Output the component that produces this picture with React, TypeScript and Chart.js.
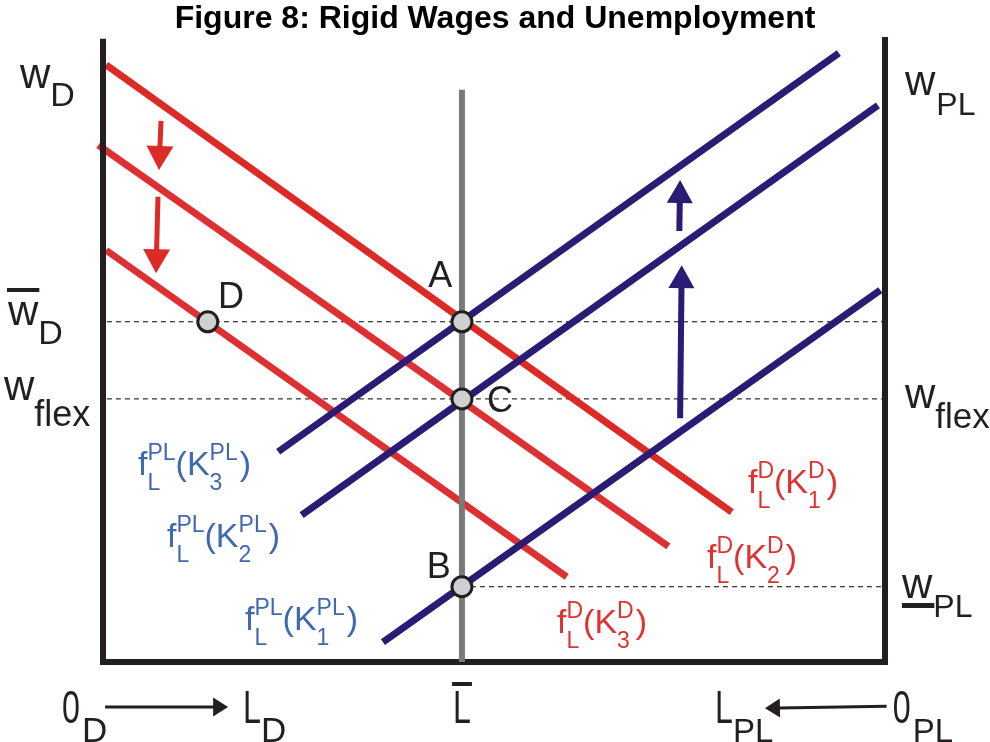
import { useEffect, useRef } from "react";
import { Chart, registerables } from "chart.js";

Chart.register(...registerables);

const TITLE = "Figure 8: Rigid Wages and Unemployment";
const FONT = '"Liberation Sans", Arial, sans-serif';

// x = labour (from O_D, 0..100), y = wage (0..100)
const demandK1 = [{ x: 0.4, y: 96.0 }, { x: 80.4, y: 24.1 }];
const demandK2 = [{ x: -0.6, y: 83.1 }, { x: 72.3, y: 18.6 }];
const demandK3 = [{ x: 0.4, y: 66.2 }, { x: 59.3, y: 13.7 }];
const supplyK1 = [{ x: 35.8, y: 3.2 }, { x: 99.4, y: 59.8 }];
const supplyK2 = [{ x: 25.4, y: 23.6 }, { x: 99.1, y: 89.5 }];
const supplyK3 = [{ x: 22.4, y: 33.8 }, { x: 94.1, y: 97.9 }];

const laborEndowment = 45.9;
const laborLineTop = 92.0;
const wageRigid = 54.7;
const wageFlex = 42.3;
const wagePLMin = 12.1;

const pointNames = ["A", "C", "B", "D"];
const pointX = [45.9, 45.9, 45.9, 13.4];
const pointY = [54.7, 42.3, 12.1, 54.7];

const redArrows = [
  { from: [7.42, 87.0], to: [7.16, 79.1] },
  { from: [7.03, 74.8], to: [6.78, 62.5] },
];
const blueArrows = [
  { from: [73.7, 69.3], to: [73.8, 77.5] },
  { from: [73.8, 39.2], to: [74.0, 63.8] },
];
const originArrows = [
  { from: [0.26, -7.23], to: [16.0, -7.23] },
  { from: [100.2, -7.1], to: [84.65, -7.45] },
];

const RED = "#dc2a26";
const BLUE = "#2c1b74";
const BLACK = "#231f20";
const RED_TXT = "#e03232";
const BLUE_TXT = "#4169b0";

type Tok = { t?: string; sup?: string; sub?: string; sx?: number; gap?: number; over?: number; under?: number };
type Rich = { x: number; y: number; color: string; size: number; ssize: number; supDy: number; subDy: number; toks: Tok[] };

const axisLabels: Rich[] = [
  { x: -10.61, y: 92.28, color: BLACK, size: 42, ssize: 34, supDy: 0, subDy: 18, toks: [{ t: "w" }, { sub: "D" }] },
  { x: -12.15, y: 54.18, color: BLACK, size: 42, ssize: 34, supDy: 0, subDy: 19, toks: [{ t: "w", over: 35 }, { sub: "D" }] },
  { x: -12.66, y: 42.12, color: BLACK, size: 42, ssize: 36, supDy: 0, subDy: 26, toks: [{ t: "w" }, { sub: "flex" }] },
  { x: 102.56, y: 91.16, color: BLACK, size: 42, ssize: 32, supDy: 0, subDy: 20, toks: [{ t: "w" }, { sub: "PL", gap: 1 }] },
  { x: 102.56, y: 40.84, color: BLACK, size: 42, ssize: 35, supDy: 0, subDy: 20, toks: [{ t: "w" }, { sub: "flex" }] },
  { x: 102.17, y: 10.29, color: BLACK, size: 42, ssize: 32, supDy: 0, subDy: 19, toks: [{ t: "w", under: 7 }, { sub: "PL", gap: 1 }] },
  { x: -5.24, y: -9.81, color: BLACK, size: 46, ssize: 35, supDy: 0, subDy: 19, toks: [{ t: "0", sx: 0.7 }, { sub: "D", gap: 2 }] },
  { x: 17.9, y: -9.81, color: BLACK, size: 46, ssize: 35, supDy: 0, subDy: 19, toks: [{ t: "L", sx: 0.7 }, { sub: "D" }] },
  { x: 44.76, y: -9.81, color: BLACK, size: 46, ssize: 35, supDy: 0, subDy: 19, toks: [{ t: "L", sx: 0.7, over: 39 }] },
  { x: 78.26, y: -9.81, color: BLACK, size: 46, ssize: 33, supDy: 0, subDy: 19, toks: [{ t: "L", sx: 0.7 }, { sub: "PL" }] },
  { x: 101.0, y: -9.81, color: BLACK, size: 46, ssize: 33, supDy: 0, subDy: 19, toks: [{ t: "0", sx: 0.7 }, { sub: "PL", gap: 2 }] },
];

const curveLabelX = [4.48, 8.18, 18.16, 82.48, 77.24, 58.06];
const curveLabelY = [30.06, 18.49, 5.14, 27.17, 15.11, 4.66];
const curveLabelSup = ["PL", "PL", "PL", "D", "D", "D"];
const curveLabelIdx = ["3", "2", "1", "1", "2", "3"];

const pointLabelX = [41.6, 49.1, 41.4, 14.71];
const pointLabelY = [60.29, 40.19, 13.5, 56.91];

function drawRich(ctx: CanvasRenderingContext2D, px: number, py: number, lab: Rich) {
  let cx = px;
  ctx.fillStyle = lab.color;
  ctx.textBaseline = "alphabetic";
  ctx.textAlign = "left";
  for (const tk of lab.toks) {
    cx += tk.gap ?? 0;
    if (tk.t) {
      ctx.font = `${lab.size}px ${FONT}`;
      const sx = tk.sx ?? 1;
      const w = ctx.measureText(tk.t).width * sx;
      ctx.save();
      ctx.translate(cx, py);
      ctx.scale(sx, 1);
      ctx.fillText(tk.t, 0, 0);
      ctx.restore();
      if (tk.over != null) ctx.fillRect(cx - 1, py - tk.over - 2, w + 2, 4);
      if (tk.under != null) ctx.fillRect(cx, py + tk.under - 2, w + 2, 5);
      cx += w;
    } else {
      ctx.font = `${lab.ssize}px ${FONT}`;
      let w = 0;
      if (tk.sup) {
        ctx.fillText(tk.sup, cx, py + lab.supDy);
        w = Math.max(w, ctx.measureText(tk.sup).width);
      }
      if (tk.sub) {
        ctx.fillText(tk.sub, cx, py + lab.subDy);
        w = Math.max(w, ctx.measureText(tk.sub).width);
      }
      cx += w;
    }
  }
}

function drawArrow(ctx: CanvasRenderingContext2D, x1: number, y1: number, x2: number, y2: number, color: string, lw: number, hl: number, hw: number) {
  const a = Math.atan2(y2 - y1, x2 - x1);
  const c = Math.cos(a), s = Math.sin(a);
  const bx = x2 - hl * c, by = y2 - hl * s;
  ctx.strokeStyle = color;
  ctx.lineWidth = lw;
  ctx.lineCap = "butt";
  ctx.beginPath();
  ctx.moveTo(x1, y1);
  ctx.lineTo(bx + c, by + s);
  ctx.stroke();
  ctx.fillStyle = color;
  ctx.beginPath();
  ctx.moveTo(x2, y2);
  ctx.lineTo(bx + (hw / 2) * s, by - (hw / 2) * c);
  ctx.lineTo(bx - (hw / 2) * s, by + (hw / 2) * c);
  ctx.closePath();
  ctx.fill();
}

const annotationPlugin = {
  id: "annotations",
  afterDatasetsDraw(chart: any) {
    const ctx: CanvasRenderingContext2D = chart.ctx;
    const xs = chart.scales.x, ys = chart.scales.y;
    const X = (v: number) => xs.getPixelForValue(v);
    const Y = (v: number) => ys.getPixelForValue(v);
    ctx.save();
    for (const a of redArrows) drawArrow(ctx, X(a.from[0]), Y(a.from[1]), X(a.to[0]), Y(a.to[1]), RED, 5, 24, 27);
    for (const a of blueArrows) drawArrow(ctx, X(a.from[0]), Y(a.from[1]), X(a.to[0]), Y(a.to[1]), BLUE, 6, 23, 26);
    for (const a of originArrows) drawArrow(ctx, X(a.from[0]), Y(a.from[1]), X(a.to[0]), Y(a.to[1]), BLACK, 3, 15, 19);

    for (const lab of axisLabels) drawRich(ctx, X(lab.x), Y(lab.y), lab);

    curveLabelX.forEach((cxv, i) => {
      const isPL = curveLabelSup[i] === "PL";
      drawRich(ctx, X(cxv), Y(curveLabelY[i]), {
        x: cxv, y: curveLabelY[i], color: isPL ? BLUE_TXT : RED_TXT, size: 34, ssize: 23, supDy: -15, subDy: 15,
        toks: [{ t: "f" }, { sup: curveLabelSup[i], sub: "L" }, { t: "(K" }, { sup: curveLabelSup[i], sub: curveLabelIdx[i] }, { t: ")", gap: 2 }],
      });
    });

    ctx.fillStyle = BLACK;
    ctx.font = `36px ${FONT}`;
    ctx.textAlign = "left";
    ctx.textBaseline = "alphabetic";
    pointNames.forEach((n, i) => ctx.fillText(n, X(pointLabelX[i]), Y(pointLabelY[i])));

    ctx.font = `bold 32px ${FONT}`;
    ctx.textAlign = "center";
    ctx.fillStyle = "#000";
    ctx.fillText(TITLE, 495, 28);
    ctx.restore();
  },
};

export default function App() {
  const ref = useRef<HTMLCanvasElement | null>(null);
  useEffect(() => {
    if (!ref.current) return;
    const line = (data: any[], color: string, width: number, order: number, extra: any = {}) => ({
      data, borderColor: color, borderWidth: width, pointRadius: 0, tension: 0, fill: false, clip: false, order, ...extra,
    });
    const chart = new Chart(ref.current, {
      type: "line",
      data: {
        datasets: [
          {
            data: pointX.map((x, i) => ({ x, y: pointY[i] })),
            showLine: false, pointRadius: 10, pointBackgroundColor: "#cfd0d2", pointBorderColor: BLACK,
            pointBorderWidth: 3, clip: false, order: 0,
          } as any,
          line([{ x: laborEndowment, y: 0 }, { x: laborEndowment, y: laborLineTop }], "#7a7a7a", 6, 1),
          line([{ x: 0, y: 0 }, { x: 0, y: 99.7 }], BLACK, 6, 1, { borderCapStyle: "square" }),
          line([{ x: 100, y: 0 }, { x: 100, y: 100 }], BLACK, 6, 1, { borderCapStyle: "square" }),
          line([{ x: 0, y: 0 }, { x: 100, y: 0 }], BLACK, 6, 1, { borderCapStyle: "square" }),
          line(supplyK1, BLUE, 7, 2),
          line(supplyK2, BLUE, 7, 2),
          line(supplyK3, BLUE, 7, 2),
          line(demandK1, RED, 7, 3),
          line(demandK2, "#dd3033", 7, 3),
          line(demandK3, "#dd3033", 7, 3),
          line([{ x: 0.5, y: wageRigid }, { x: 99.6, y: wageRigid }], "#000", 1, 4, { borderDash: [5, 4] }),
          line([{ x: 0.5, y: wageFlex }, { x: 99.6, y: wageFlex }], "#000", 1, 4, { borderDash: [5, 4] }),
          line([{ x: laborEndowment, y: wagePLMin }, { x: 99.6, y: wagePLMin }], "#000", 1, 4, { borderDash: [5, 4] }),
        ],
      },
      options: {
        animation: false,
        responsive: false,
        events: [],
        layout: { padding: { left: 103, right: 105, top: 40, bottom: 80 } },
        scales: {
          x: { type: "linear", min: 0, max: 100, display: false },
          y: { type: "linear", min: 0, max: 100, display: false },
        },
        plugins: { legend: { display: false }, tooltip: { enabled: false }, title: { display: false } },
      },
      plugins: [annotationPlugin],
    });
    return () => chart.destroy();
  }, []);
  return (
    <div style={{ position: "absolute", left: 0, top: 0, width: 990, height: 742, background: "#fff" }}>
      <canvas ref={ref} width={990} height={742} />
    </div>
  );
}
